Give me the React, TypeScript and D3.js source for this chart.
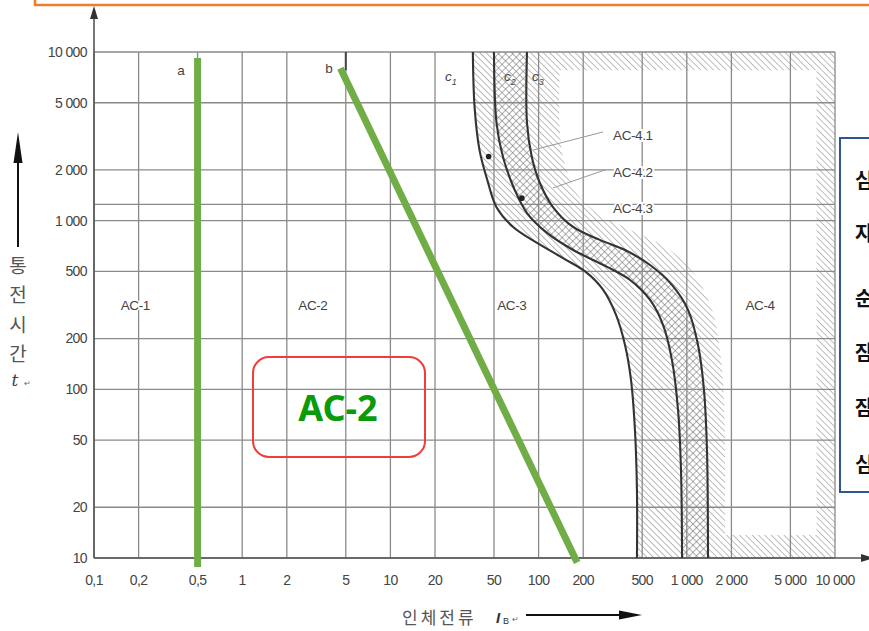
import React from 'react';
import * as d3 from 'd3';

const W = 869;
const H = 631;

// Axis ticks
const yTicks = [10000, 5000, 2000, 1000, 500, 200, 100, 50, 20, 10];
const xTicks = [0.1, 0.2, 0.5, 1, 2, 5, 10, 20, 50, 100, 200, 500, 1000, 2000, 5000, 10000];
const extraGridT = [1250];

// Curves: [current mA, time ms]
const curveC1: [number, number][] = [
  [36, 10000], [37, 4700], [40, 2600], [45, 1750], [52, 1200], [67, 920], [97, 740],
  [146, 600], [206, 500], [272, 390], [333, 276], [383, 183], [420, 114], [447, 57],
  [461, 25], [461, 10],
];
const curveC2: [number, number][] = [
  [50, 10000], [52, 3800], [57.5, 2385], [69, 1520], [83.5, 1110], [114, 846], [171, 670],
  [290, 532], [414, 445], [565, 339], [691, 241], [794, 149], [873, 75], [914, 33], [929, 10],
];
const curveC3: [number, number][] = [
  [83.5, 10000], [83.5, 3800], [90, 2385], [102, 1673], [125, 1205], [171, 918], [259, 769],
  [383, 670], [565, 546], [794, 416], [1019, 296], [1191, 183], [1306, 99], [1368, 44], [1390, 10],
];
// outer edge of hatched band right of c3
const hatchEdge: [number, number][] = [
  [139, 7800], [139, 3450], [151, 2140], [184, 1420], [259, 1081], [447, 857], [770, 670],
  [1136, 477], [1479, 296], [1675, 171], [1782, 86.5], [1811, 38], [1811, 13.7],
];
const hatchInnerCorner: [number, number][] = [[7500, 13.7], [7500, 7800]];

const lineA: [number, number][] = [[0.5, 9200], [0.5, 8.85]];
const lineB: [number, number][] = [[4.6, 8000], [182, 9.4]];
const dots: [number, number][] = [[46, 2400], [77, 1360]];

const zoneLabels = [
  { text: 'AC-1', i: 0.19, t: 316 },
  { text: 'AC-2', i: 3.0, t: 316 },
  { text: 'AC-3', i: 66, t: 316 },
  { text: 'AC-4', i: 3120, t: 316 },
];
const subLabels = [
  { text: 'AC-4.1', i: 318, t: 3220 },
  { text: 'AC-4.2', i: 318, t: 1945 },
  { text: 'AC-4.3', i: 318, t: 1188 },
];
const leaders: [number, number][][] = [
  [[272, 3357], [92, 2625]],
  [[281, 2000], [125, 1563]],
];
const curveLabels = [
  { text: 'a', sub: '', i: 0.386, t: 7820 },
  { text: 'b', sub: '', i: 3.85, t: 8040 },
  { text: 'c', sub: '1', i: 25.6, t: 7210 },
  { text: 'c', sub: '2', i: 64, t: 7210 },
  { text: 'c', sub: '3', i: 99, t: 7210 },
];
const yAxisTitle = ['통', '전', '시', '간'];
const sideChars = ['심', '자', '순', '잠', '잠', '심'];

const fmt = (v: number) => {
  if (v < 1) return String(v).replace('.', ',');
  return v >= 1000 ? `${Math.floor(v / 1000)} ${String(v % 1000).padStart(3, '0')}` : String(v);
};

export default function App() {
  const x = d3.scaleLog().domain([0.1, 10000]).range([94, 835]);
  const y = d3.scaleLog().domain([10, 10000]).range([558, 52]);
  const gen = d3
    .line<[number, number]>()
    .x((d) => x(d[0]))
    .y((d) => y(d[1]))
    .curve(d3.curveCatmullRom.alpha(0.5));
  const straight = d3
    .line<[number, number]>()
    .x((d) => x(d[0]))
    .y((d) => y(d[1]));

  const join = (a: [number, number][], b: [number, number][]) =>
    (gen(a) as string) + 'L' + (gen([...b].reverse()) as string).slice(1) + 'Z';

  const regionA = join(curveC1, curveC2);
  const regionB = join(curveC2, curveC3);
  const regionC =
    (gen(curveC3) as string) +
    `L${x(10000)},${y(10)}L${x(10000)},${y(10000)}Z` +
    (gen(hatchEdge) as string) +
    hatchInnerCorner.map((p) => `L${x(p[0])},${y(p[1])}`).join('') +
    'Z';

  const gridColor = '#8a8a8a';
  const textColor = '#444';
  const sans = '"Liberation Sans", Arial, sans-serif';
  const kr = '"Noto Sans CJK KR", sans-serif';

  return (
    <svg
      width={W}
      height={H}
      viewBox={`0 0 ${W} ${H}`}
      style={{ position: 'absolute', left: 0, top: 0, background: '#fff' }}
    >
      <defs>
        <pattern id="hatchB" patternUnits="userSpaceOnUse" width="4.5" height="4.5" patternTransform="rotate(-45)">
          <line x1="0" y1="0" x2="0" y2="4.5" stroke="#6f6f6f" strokeWidth="1" />
        </pattern>
        <pattern id="hatchL" patternUnits="userSpaceOnUse" width="4.5" height="4.5" patternTransform="rotate(-45)">
          <line x1="0" y1="0" x2="0" y2="4.5" stroke="#7c7c7c" strokeWidth="1" />
        </pattern>
        <pattern id="cross" patternUnits="userSpaceOnUse" width="5" height="5" patternTransform="rotate(45)">
          <line x1="0" y1="0" x2="0" y2="5" stroke="#606060" strokeWidth="1" />
          <line x1="0" y1="0" x2="5" y2="0" stroke="#606060" strokeWidth="1" />
        </pattern>
      </defs>
      <rect x={0} y={0} width={W} height={H} fill="#fff" />

      {/* hatched zones */}
      <path d={regionC} fill="url(#hatchL)" fillRule="evenodd" />
      <path d={regionA} fill="url(#hatchB)" />
      <path d={regionB} fill="url(#cross)" />

      {/* grid */}
      {xTicks.map((v) => (
        <line key={'gx' + v} x1={x(v)} x2={x(v)} y1={y(10000)} y2={y(10)} stroke={gridColor} strokeWidth={1.3} />
      ))}
      {[...yTicks, ...extraGridT].map((v) => (
        <line key={'gy' + v} x1={x(0.1)} x2={x(10000)} y1={y(v)} y2={y(v)} stroke={gridColor} strokeWidth={1.3} />
      ))}

      {/* axes */}
      <line x1={x(0.1)} x2={x(0.1)} y1={y(10)} y2={16} stroke="#555" strokeWidth={1.6} />
      <polygon points={`${x(0.1)},6 ${x(0.1) - 4},19 ${x(0.1) + 4},19`} fill="#333" />
      <line x1={x(0.1)} x2={862} y1={y(10)} y2={y(10)} stroke="#555" strokeWidth={1.6} />
      <polygon points={`874,${y(10)} 861,${y(10) - 4} 861,${y(10) + 4}`} fill="#333" />

      {/* dark stub of original b line */}
      <line x1={x(5)} x2={x(5)} y1={y(10000)} y2={y(7800)} stroke="#444" strokeWidth={2} />

      {/* curves */}
      {[curveC1, curveC2, curveC3].map((c, k) => (
        <path key={'c' + k} d={gen(c) as string} fill="none" stroke="#333" strokeWidth={2.1} />
      ))}
      {dots.map((d, k) => (
        <circle key={'d' + k} cx={x(d[0])} cy={y(d[1])} r={2.8} fill="#222" />
      ))}
      {leaders.map((l, k) => (
        <path key={'l' + k} d={straight(l) as string} stroke="#999" strokeWidth={1} fill="none" />
      ))}

      {/* tick labels */}
      {yTicks.map((v) => (
        <text key={'ty' + v} x={87} y={y(v)} dy="0.35em" textAnchor="end" fontFamily={sans} fontSize={14} fill={textColor} letterSpacing={-0.6}>
          {fmt(v)}
        </text>
      ))}
      {xTicks.map((v) => (
        <text key={'tx' + v} x={x(v)} y={585} textAnchor="middle" fontFamily={sans} fontSize={14} fill={textColor} letterSpacing={-0.6}>
          {fmt(v)}
        </text>
      ))}

      {/* zone labels */}
      {zoneLabels.map((z) => (
        <text key={z.text} x={x(z.i)} y={y(z.t)} dy="0.35em" textAnchor="middle" fontFamily={sans} fontSize={13.5} fill={textColor}
          stroke="#fff" strokeWidth={3} paintOrder="stroke" letterSpacing={-0.4}>
          {z.text}
        </text>
      ))}
      {subLabels.map((z) => (
        <text key={z.text} x={x(z.i)} y={y(z.t)} dy="0.35em" textAnchor="start" fontFamily={sans} fontSize={13.5} fill={textColor}
          stroke="#fff" strokeWidth={4} paintOrder="stroke" letterSpacing={-0.4}>
          {z.text}
        </text>
      ))}
      {curveLabels.map((c, k) => (
        <text key={'cl' + k} x={x(c.i)} y={y(c.t)} dy="0.35em" textAnchor="middle" fontFamily={sans} fontSize={13.5} fill={textColor}
          fontStyle={c.sub ? 'italic' : 'normal'}>
          {c.text}
          {c.sub && (
            <tspan fontSize={9} dy="4">{c.sub}</tspan>
          )}
        </text>
      ))}

      {/* green overlay lines */}
      <path d={straight(lineA) as string} stroke="#70AD47" strokeWidth={7} fill="none" />
      <path d={straight(lineB) as string} stroke="#70AD47" strokeWidth={7} fill="none" />

      {/* red box with AC-2 */}
      <rect x={253} y={357} width={172} height={100} rx={16} fill="none" stroke="#F23B3B" strokeWidth={2} />
      <text x={338} y={408} dy="0.35em" textAnchor="middle" fontFamily='"Noto Sans", sans-serif' fontWeight="bold" fontSize={36} fill="#0A9B0A">
        AC-2
      </text>

      {/* y axis title */}
      <line x1={18} x2={18} y1={247} y2={158} stroke="#111" strokeWidth={2} />
      <polygon points="18,132 13.5,163 22.5,163" fill="#111" />
      {yAxisTitle.map((c, k) => (
        <text key={'ya' + k} x={18} y={266 + k * 29.5} dy="0.35em" textAnchor="middle" fontFamily={kr} fontSize={19} fill="#555">
          {c}
        </text>
      ))}
      <text x={15} y={386} textAnchor="middle" fontFamily='"DejaVu Serif", serif' fontStyle="italic" fontSize={17} fill="#444">
        t
      </text>
      <text x={24} y={386} fontFamily={sans} fontSize={8} fill="#666">↵</text>

      {/* x axis title */}
      <text x={402} y={624} fontFamily={kr} fontSize={17} fill="#555" letterSpacing={3}>인체전류</text>
      <text x={496} y={623} fontFamily={sans} fontStyle="italic" fontWeight="bold" fontSize={15} fill="#333">I</text>
      <text x={503} y={624} fontFamily={sans} fontSize={9} fill="#333">B</text>
      <text x={512} y={622} fontFamily={sans} fontSize={8} fill="#666">↵</text>
      <line x1={526} x2={625} y1={615} y2={615} stroke="#111" strokeWidth={1.8} />
      <polygon points="642,615 619,610.5 619,619.5" fill="#111" />

      {/* orange frame above */}
      <rect x={35} y={-100} width={900} height={105} fill="none" stroke="#ED7D31" strokeWidth={2.5} />

      {/* blue box on right */}
      <rect x={840} y={138} width={100} height={354} fill="#fff" stroke="#2F5597" strokeWidth={2} />
      {sideChars.map((c, k) => (
        <text key={'sc' + k} x={855} y={[181, 234, 299, 353, 408, 465][k]} dy="0.35em" fontFamily={kr} fontWeight="bold" fontSize={20} fill="#111">
          {c}
        </text>
      ))}
    </svg>
  );
}
